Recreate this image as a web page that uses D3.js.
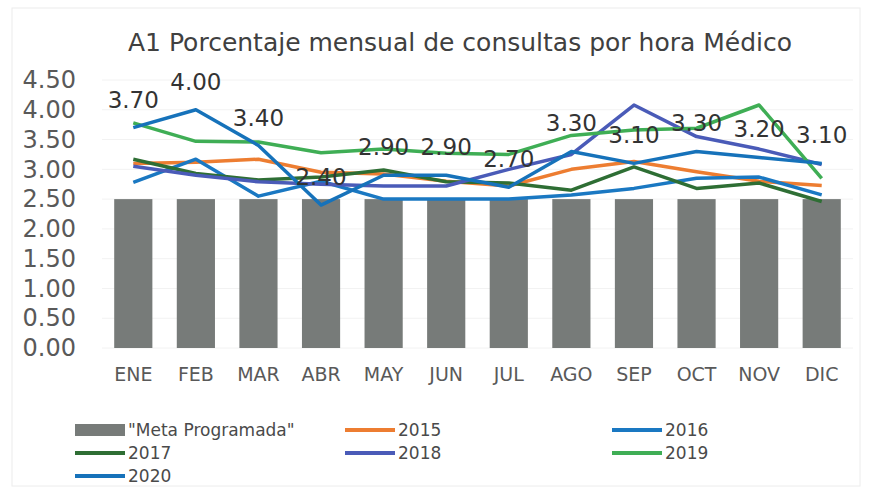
<!DOCTYPE html>
<html>
<head>
<meta charset="utf-8">
<script src="https://cdn.jsdelivr.net/npm/d3@7"></script>
<style>
  body { margin: 0; background: #fff; }
  text { font-family: "DejaVu Sans", sans-serif; }
</style>
</head>
<body>
<div id="chart"></div>
<script>
// chart data
const months = ["ENE", "FEB", "MAR", "ABR", "MAY", "JUN", "JUL", "AGO", "SEP", "OCT", "NOV", "DIC"];
const meta = [2.5, 2.5, 2.5, 2.5, 2.5, 2.5, 2.5, 2.5, 2.5, 2.5, 2.5, 2.5];
const y2015 = [3.10, 3.12, 3.17, 2.95, 2.92, 2.80, 2.72, 3.00, 3.13, 2.96, 2.80, 2.73];
const y2016 = [2.78, 3.17, 2.55, 2.80, 2.50, 2.50, 2.50, 2.57, 2.68, 2.85, 2.87, 2.57];
const y2017 = [3.17, 2.93, 2.82, 2.87, 2.99, 2.79, 2.77, 2.65, 3.04, 2.68, 2.77, 2.46];
const y2018 = [3.05, 2.90, 2.79, 2.75, 2.72, 2.72, 3.00, 3.25, 4.08, 3.55, 3.34, 3.08];
const y2019 = [3.78, 3.47, 3.46, 3.28, 3.34, 3.27, 3.25, 3.57, 3.66, 3.69, 4.08, 2.85];
const y2020 = [3.70, 4.00, 3.40, 2.40, 2.90, 2.90, 2.70, 3.30, 3.10, 3.30, 3.20, 3.10];
const yTicks = [0, 0.5, 1, 1.5, 2, 2.5, 3, 3.5, 4, 4.5];

const lineSeries = [
  { name: "2015", values: y2015, color: "#ED7D31" },
  { name: "2016", values: y2016, color: "#1A78C2" },
  { name: "2017", values: y2017, color: "#2E6E34" },
  { name: "2018", values: y2018, color: "#4A5BB8" },
  { name: "2019", values: y2019, color: "#3FAE55" },
  { name: "2020", values: y2020, color: "#1672BA" }
];

const width = 871, height = 492;
const margin = { top: 80, left: 102, right: 18 };

const svg = d3.select("#chart").append("svg")
  .attr("width", width)
  .attr("height", height);

// faint frame of the chart area
svg.append("rect")
  .attr("x", 12).attr("y", 8)
  .attr("width", 848).attr("height", 478)
  .attr("fill", "none")
  .attr("stroke", "#ececec");

const x = d3.scaleBand()
  .domain(months)
  .range([margin.left, width - margin.right])
  .paddingInner(0.39)
  .paddingOuter(0.195);

const y = d3.scaleLinear()
  .domain([0, 4.5])
  .range([348, 80]);

// title
svg.append("text")
  .attr("x", 460)
  .attr("y", 51)
  .attr("text-anchor", "middle")
  .attr("fill", "#404040")
  .style("font-size", "25px")
  .text("A1 Porcentaje mensual de consultas por hora Médico");

// gridlines
svg.append("g")
  .selectAll("line")
  .data(yTicks)
  .join("line")
  .attr("x1", margin.left)
  .attr("x2", width - margin.right)
  .attr("y1", d => y(d))
  .attr("y2", d => y(d))
  .attr("stroke", "#f2f2f2");

// y axis
const yAxis = d3.axisLeft(y)
  .tickValues(yTicks)
  .tickFormat(d3.format(".2f"))
  .tickSize(0)
  .tickPadding(0);

svg.append("g")
  .attr("transform", `translate(76,0)`)
  .call(yAxis)
  .call(g => g.select(".domain").remove())
  .selectAll("text")
  .attr("fill", "#595959")
  .style("font-size", "24px")
  .style("font-family", "DejaVu Sans");

// x axis
const xAxis = d3.axisBottom(x).tickSize(0).tickPadding(0);
svg.append("g")
  .attr("transform", `translate(0,367)`)
  .call(xAxis)
  .call(g => g.select(".domain").remove())
  .selectAll("text")
  .attr("fill", "#595959")
  .style("font-size", "19px")
  .style("font-family", "DejaVu Sans");

// bars: meta programada
svg.append("g")
  .selectAll("rect")
  .data(meta)
  .join("rect")
  .attr("x", (d, i) => x(months[i]))
  .attr("y", d => y(d))
  .attr("width", x.bandwidth())
  .attr("height", d => y(0) - y(d))
  .attr("fill", "#777b79");

// lines
const line = d3.line()
  .x((d, i) => x(months[i]) + x.bandwidth() / 2)
  .y(d => y(d));

svg.append("g")
  .selectAll("path")
  .data(lineSeries)
  .join("path")
  .attr("d", d => line(d.values))
  .attr("fill", "none")
  .attr("stroke", d => d.color)
  .attr("stroke-width", 3.5)
  .attr("stroke-linejoin", "round");

// data labels for 2020
svg.append("g")
  .selectAll("text")
  .data(y2020)
  .join("text")
  .attr("x", (d, i) => x(months[i]) + x.bandwidth() / 2)
  .attr("y", d => y(d) - 20)
  .attr("text-anchor", "middle")
  .attr("fill", "#333")
  .style("font-size", "23px")
  .text(d => d.toFixed(2));

// legend
const legendItems = [
  { name: "\"Meta Programada\"", color: "#777b79", bar: true },
  { name: "2015", color: "#ED7D31" },
  { name: "2016", color: "#1A78C2" },
  { name: "2017", color: "#2E6E34" },
  { name: "2018", color: "#4A5BB8" },
  { name: "2019", color: "#3FAE55" },
  { name: "2020", color: "#1672BA" }
];
const legendCols = [75, 345, 612];

const legend = svg.append("g")
  .selectAll("g")
  .data(legendItems)
  .join("g")
  .attr("transform", (d, i) => `translate(${legendCols[i % 3]},${430 + Math.floor(i / 3) * 23})`);

legend.append("rect")
  .attr("x", 0)
  .attr("y", d => d.bar ? -6 : -2)
  .attr("width", 50)
  .attr("height", d => d.bar ? 12 : 4)
  .attr("fill", d => d.color);

legend.append("text")
  .attr("x", 53)
  .attr("y", 6)
  .attr("fill", "#4a4a4a")
  .style("font-size", "17px")
  .text(d => d.name);
</script>
</body>
</html>
